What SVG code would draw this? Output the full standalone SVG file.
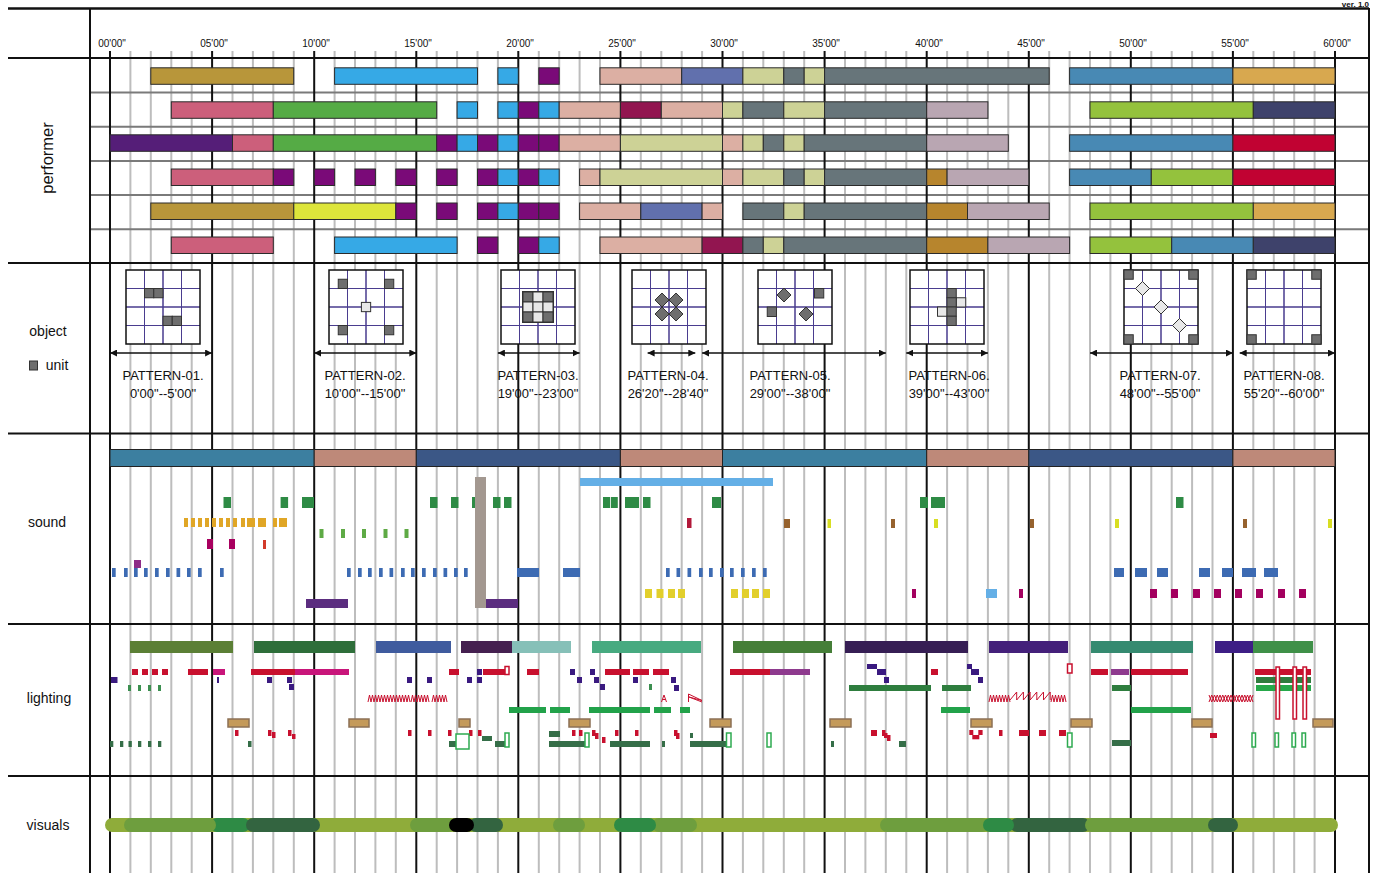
<svg xmlns="http://www.w3.org/2000/svg" xmlns:xlink="http://www.w3.org/1999/xlink" width="1378" height="873" viewBox="0 0 1378 873">
<style>
text{font-family:"Liberation Sans",Arial,sans-serif;fill:#111}
.lbl{font-size:14px;text-anchor:middle}
.tm{font-size:10px;text-anchor:middle}
.pt{font-size:13px;text-anchor:middle}
.gl{stroke:#bdbdbd;stroke-width:2;fill:none}
.bl{stroke:#111;stroke-width:2;fill:none}
.sep{stroke:#7a7a7a;stroke-width:2;fill:none}
.bar rect{stroke:#2b2b2b;stroke-width:1}
.gd{fill:#B8963A}.bu{fill:#36A9E6}.pu{fill:#7A0A78}.pb{fill:#DCAFA3}.sl{fill:#6170AD}.po{fill:#CDD296}.gy{fill:#67757A}.st{fill:#4889B4}.og{fill:#D8A84F}.pk{fill:#CC5F7B}.gn{fill:#55AB45}.mr{fill:#921550}.mv{fill:#B9A6B2}.lm{fill:#94C23D}.nv{fill:#3E426B}.dp{fill:#551E78}.cr{fill:#C10232}.bg{fill:#B7852D}.ye{fill:#DDE53B}
.u{fill:#6e6e6e;stroke:#333;stroke-width:1}
.ul{fill:#e8e8e8;stroke:#333;stroke-width:1}
.arr{stroke:#111;stroke-width:1.5;fill:none;marker-start:url(#ah);marker-end:url(#ah)}
.zz{stroke:#C8102E;stroke-width:1;fill:none}
.ro{fill:#fff;stroke:#C8102E;stroke-width:1.5}
.go{fill:#fff;stroke:#2EAA50;stroke-width:1.5}
.tan{fill:#C49A5A;stroke:#8C7055;stroke-width:1.5}
.vis{stroke-width:14;stroke-linecap:round;fill:none}
</style>
<defs>
<marker id="ah" viewBox="0 0 10 10" refX="10" refY="5" markerUnits="userSpaceOnUse" markerWidth="7" markerHeight="7" orient="auto-start-reverse"><path d="M0,0L10,5L0,10z" fill="#111"/></marker>
<g id="pg"><rect width="74" height="74" fill="#fff"/><path d="M18.5 0V74M55.5 0V74M0 18.5H74M0 55.5H74" stroke="#4a3d8f" stroke-width="1"/><path d="M37 0V74M0 37H74" stroke="#4a3d8f" stroke-width="1.5"/><rect width="74" height="74" fill="none" stroke="#111" stroke-width="1.5"/></g>
</defs>
<rect width="1378" height="873" fill="#fff"/>

<g id="grid">
<path class="gl" d="M130.4 51V873M150.8 51V873M171.3 51V873M191.7 51V873M232.5 51V873M252.9 51V873M273.3 51V873M293.8 51V873M334.6 51V873M355 51V873M375.4 51V873M395.8 51V873M436.7 51V873M457.1 51V873M477.5 51V873M497.9 51V873M538.8 51V873M559.2 51V873M579.6 51V873M600 51V873M640.8 51V873M661.3 51V873M681.7 51V873M702.1 51V873M742.9 51V873M763.3 51V873M783.8 51V873M804.2 51V873M845 51V873M865.4 51V873M885.8 51V873M906.3 51V873M947.1 51V873M967.5 51V873M987.9 51V873M1008.3 51V873M1049.2 51V873M1069.6 51V873M1090 51V873M1110.4 51V873M1151.3 51V873M1171.7 51V873M1192.1 51V873M1212.5 51V873M1253.3 51V873M1273.8 51V873M1294.2 51V873M1314.6 51V873"/>
<path class="sep" d="M90 92.5H1369M90 126.7H1369M90 161H1369M90 195H1369M90 229.3H1369"/>
<path class="bl" d="M110 51V873M212.1 51V873M314.2 51V873M416.3 51V873M518.3 51V873M620.4 51V873M722.5 51V873M824.6 51V873M926.7 51V873M1028.8 51V873M1130.8 51V873M1232.9 51V873M1335 51V873"/>
<path class="bl" d="M8 58H1369M8 263H1369M8 433.5H1369M8 624H1369M8 776H1369"/>
<path class="bl" d="M90 8V873M1369 8V873"/>
<path d="M8 8.5H1369" stroke="#111" stroke-width="2.5"/>
</g>

<g id="header">
<text x="1369" y="6.5" font-size="8" font-weight="bold" text-anchor="end">ver. 1.0</text>
<text class="tm" x="112" y="47">00'00"</text>
<text class="tm" x="214" y="47">05'00"</text>
<text class="tm" x="316" y="47">10'00"</text>
<text class="tm" x="418" y="47">15'00"</text>
<text class="tm" x="520" y="47">20'00"</text>
<text class="tm" x="622" y="47">25'00"</text>
<text class="tm" x="724" y="47">30'00"</text>
<text class="tm" x="826" y="47">35'00"</text>
<text class="tm" x="929" y="47">40'00"</text>
<text class="tm" x="1031" y="47">45'00"</text>
<text class="tm" x="1133" y="47">50'00"</text>
<text class="tm" x="1235" y="47">55'00"</text>
<text class="tm" x="1337" y="47">60'00"</text>
</g>

<g id="labels">
<text x="0" y="0" font-size="16.5" text-anchor="middle" transform="translate(53,158) rotate(-90)">performer</text>
<text class="lbl" x="48" y="336">object</text>
<rect class="u" x="29.5" y="361" width="8" height="9"/>
<text class="lbl" x="57" y="370">unit</text>
<text class="lbl" x="47" y="527">sound</text>
<text class="lbl" x="49" y="703">lighting</text>
<text class="lbl" x="48" y="830">visuals</text>
</g>

<g id="performer" class="bar">
<g id="perf-row1" transform="translate(0,67.8)">
<rect class="gd" x="150.8" width="142.9" height="16.5"/>
<rect class="bu" x="334.6" width="142.9" height="16.5"/>
<rect class="bu" x="497.9" width="20.4" height="16.5"/>
<rect class="pu" x="538.8" width="20.4" height="16.5"/>
<rect class="pb" x="600" width="81.7" height="16.5"/>
<rect class="sl" x="681.7" width="61.2" height="16.5"/>
<rect class="po" x="742.9" width="40.9" height="16.5"/>
<rect class="gy" x="783.8" width="20.4" height="16.5"/>
<rect class="po" x="804.2" width="20.4" height="16.5"/>
<rect class="gy" x="824.6" width="224.6" height="16.5"/>
<rect class="st" x="1069.6" width="163.3" height="16.5"/>
<rect class="og" x="1232.9" width="102.1" height="16.5"/>
</g>
<g id="perf-row2" transform="translate(0,101.8)">
<rect class="pk" x="171.3" width="102" height="16.5"/>
<rect class="gn" x="273.3" width="163.4" height="16.5"/>
<rect class="bu" x="457.1" width="20.4" height="16.5"/>
<rect class="bu" x="497.9" width="20.4" height="16.5"/>
<rect class="pu" x="518.3" width="20.5" height="16.5"/>
<rect class="bu" x="538.8" width="20.4" height="16.5"/>
<rect class="pb" x="559.2" width="61.2" height="16.5"/>
<rect class="mr" x="620.4" width="40.9" height="16.5"/>
<rect class="pb" x="661.3" width="61.2" height="16.5"/>
<rect class="po" x="722.5" width="20.4" height="16.5"/>
<rect class="gy" x="742.9" width="40.9" height="16.5"/>
<rect class="po" x="783.8" width="40.8" height="16.5"/>
<rect class="gy" x="824.6" width="102.1" height="16.5"/>
<rect class="mv" x="926.7" width="61.2" height="16.5"/>
<rect class="lm" x="1090" width="163.3" height="16.5"/>
<rect class="nv" x="1253.3" width="81.7" height="16.5"/>
</g>
<g id="perf-row3" transform="translate(0,134.8)">
<rect class="dp" x="110" width="122.5" height="16.5"/>
<rect class="pk" x="232.5" width="40.8" height="16.5"/>
<rect class="gn" x="273.3" width="163.4" height="16.5"/>
<rect class="pu" x="436.7" width="20.4" height="16.5"/>
<rect class="bu" x="457.1" width="20.4" height="16.5"/>
<rect class="pu" x="477.5" width="20.4" height="16.5"/>
<rect class="bu" x="497.9" width="20.4" height="16.5"/>
<rect class="pu" x="518.3" width="20.5" height="16.5"/>
<rect class="pu" x="538.8" width="20.4" height="16.5"/>
<rect class="pb" x="559.2" width="61.2" height="16.5"/>
<rect class="po" x="620.4" width="102.1" height="16.5"/>
<rect class="pb" x="722.5" width="20.4" height="16.5"/>
<rect class="po" x="742.9" width="20.4" height="16.5"/>
<rect class="gy" x="763.3" width="20.5" height="16.5"/>
<rect class="po" x="783.8" width="20.4" height="16.5"/>
<rect class="gy" x="804.2" width="122.5" height="16.5"/>
<rect class="mv" x="926.7" width="81.6" height="16.5"/>
<rect class="st" x="1069.6" width="163.3" height="16.5"/>
<rect class="cr" x="1232.9" width="102.1" height="16.5"/>
</g>
<g id="perf-row4" transform="translate(0,169)">
<rect class="pk" x="171.3" width="102" height="16.5"/>
<rect class="pu" x="273.3" width="20.5" height="16.5"/>
<rect class="pu" x="314.2" width="20.4" height="16.5"/>
<rect class="pu" x="355" width="20.4" height="16.5"/>
<rect class="pu" x="395.8" width="20.5" height="16.5"/>
<rect class="pu" x="436.7" width="20.4" height="16.5"/>
<rect class="pu" x="477.5" width="20.4" height="16.5"/>
<rect class="bu" x="497.9" width="20.4" height="16.5"/>
<rect class="pu" x="518.3" width="20.5" height="16.5"/>
<rect class="bu" x="538.8" width="20.4" height="16.5"/>
<rect class="pb" x="579.6" width="20.4" height="16.5"/>
<rect class="po" x="600" width="122.5" height="16.5"/>
<rect class="pb" x="722.5" width="20.4" height="16.5"/>
<rect class="po" x="742.9" width="40.9" height="16.5"/>
<rect class="gy" x="783.8" width="20.4" height="16.5"/>
<rect class="po" x="804.2" width="20.4" height="16.5"/>
<rect class="gy" x="824.6" width="102.1" height="16.5"/>
<rect class="bg" x="926.7" width="20.4" height="16.5"/>
<rect class="mv" x="947.1" width="81.7" height="16.5"/>
<rect class="st" x="1069.6" width="81.7" height="16.5"/>
<rect class="lm" x="1151.3" width="81.6" height="16.5"/>
<rect class="cr" x="1232.9" width="102.1" height="16.5"/>
</g>
<g id="perf-row5" transform="translate(0,203)">
<rect class="gd" x="150.8" width="143" height="16.5"/>
<rect class="ye" x="293.8" width="102" height="16.5"/>
<rect class="pu" x="395.8" width="20.5" height="16.5"/>
<rect class="pu" x="436.7" width="20.4" height="16.5"/>
<rect class="pu" x="477.5" width="20.4" height="16.5"/>
<rect class="bu" x="497.9" width="20.4" height="16.5"/>
<rect class="pu" x="518.3" width="20.5" height="16.5"/>
<rect class="pu" x="538.8" width="20.4" height="16.5"/>
<rect class="pb" x="579.6" width="61.2" height="16.5"/>
<rect class="sl" x="640.8" width="61.3" height="16.5"/>
<rect class="pb" x="702.1" width="20.4" height="16.5"/>
<rect class="gy" x="742.9" width="40.9" height="16.5"/>
<rect class="po" x="783.8" width="20.4" height="16.5"/>
<rect class="gy" x="804.2" width="122.5" height="16.5"/>
<rect class="bg" x="926.7" width="40.8" height="16.5"/>
<rect class="mv" x="967.5" width="81.7" height="16.5"/>
<rect class="lm" x="1090" width="163.3" height="16.5"/>
<rect class="og" x="1253.3" width="81.7" height="16.5"/>
</g>
<g id="perf-row6" transform="translate(0,237)">
<rect class="pk" x="171.3" width="102" height="16.5"/>
<rect class="bu" x="334.6" width="122.5" height="16.5"/>
<rect class="pu" x="477.5" width="20.4" height="16.5"/>
<rect class="pu" x="518.3" width="20.5" height="16.5"/>
<rect class="bu" x="538.8" width="20.4" height="16.5"/>
<rect class="pb" x="600" width="102.1" height="16.5"/>
<rect class="mr" x="702.1" width="40.8" height="16.5"/>
<rect class="gy" x="742.9" width="20.4" height="16.5"/>
<rect class="po" x="763.3" width="20.5" height="16.5"/>
<rect class="gy" x="783.8" width="142.9" height="16.5"/>
<rect class="bg" x="926.7" width="61.2" height="16.5"/>
<rect class="mv" x="987.9" width="81.7" height="16.5"/>
<rect class="lm" x="1090" width="81.7" height="16.5"/>
<rect class="st" x="1171.7" width="81.6" height="16.5"/>
<rect class="nv" x="1253.3" width="81.7" height="16.5"/>
</g>
</g>

<g id="objects">
<g id="pattern-01">
<g transform="translate(126,270)"><use xlink:href="#pg"/>
<rect class="u" x="18.5" y="18.5" width="9.25" height="9.25"/><rect class="u" x="27.75" y="18.5" width="9.25" height="9.25"/>
<rect class="u" x="37" y="46.25" width="9.25" height="9.25"/><rect class="u" x="46.25" y="46.25" width="9.25" height="9.25"/></g>
<text class="pt" x="163" y="380">PATTERN-01.</text><text class="pt" x="163" y="398">0'00"--5'00"</text>
</g>
<g id="pattern-02">
<g transform="translate(329,270)"><use xlink:href="#pg"/>
<rect class="u" x="9.25" y="9.25" width="9.25" height="9.25"/><rect class="u" x="55.5" y="9.25" width="9.25" height="9.25"/>
<rect class="u" x="9.25" y="55.5" width="9.25" height="9.25"/><rect class="u" x="55.5" y="55.5" width="9.25" height="9.25"/>
<rect class="ul" x="32.4" y="32.4" width="9.25" height="9.25"/></g>
<text class="pt" x="365" y="380">PATTERN-02.</text><text class="pt" x="365" y="398">10'00"--15'00"</text>
</g>
<g id="pattern-03">
<g transform="translate(501,270)"><use xlink:href="#pg"/>
<rect x="21.5" y="21.5" width="31" height="31" fill="#6e6e6e" stroke="#333"/>
<rect class="u" x="22" y="22" width="10" height="10"/><rect class="ul" x="32" y="22" width="10" height="10"/><rect class="u" x="42" y="22" width="10" height="10"/>
<rect class="ul" x="22" y="32" width="10" height="10"/><rect class="ul" x="32" y="32" width="10" height="10"/><rect class="ul" x="42" y="32" width="10" height="10"/>
<rect class="u" x="22" y="42" width="10" height="10"/><rect class="ul" x="32" y="42" width="10" height="10"/><rect class="u" x="42" y="42" width="10" height="10"/></g>
<text class="pt" x="538" y="380">PATTERN-03.</text><text class="pt" x="538" y="398">19'00"--23'00"</text>
</g>
<g id="pattern-04">
<g transform="translate(632,270)"><use xlink:href="#pg"/>
<path class="u" d="M30 23l7 7-7 7-7-7z"/><path class="u" d="M44 23l7 7-7 7-7-7z"/>
<path class="u" d="M30 37l7 7-7 7-7-7z"/><path class="u" d="M44 37l7 7-7 7-7-7z"/></g>
<text class="pt" x="668" y="380">PATTERN-04.</text><text class="pt" x="668" y="398">26'20"--28'40"</text>
</g>
<g id="pattern-05">
<g transform="translate(758,270)"><use xlink:href="#pg"/>
<path class="u" d="M26 18l7 7-7 7-7-7z"/><rect class="u" x="56.5" y="18.5" width="9.25" height="9.5"/>
<rect class="u" x="9.25" y="37" width="9.25" height="9.5"/><path class="u" d="M48 37l7 7-7 7-7-7z"/></g>
<text class="pt" x="790" y="380">PATTERN-05.</text><text class="pt" x="790" y="398">29'00"--38'00"</text>
</g>
<g id="pattern-06">
<g transform="translate(910,270)"><use xlink:href="#pg"/>
<rect class="ul" x="46.25" y="27.75" width="9.5" height="9.25"/><rect class="ul" x="27.5" y="37" width="9.5" height="9.25"/>
<rect class="u" x="37" y="18.5" width="9.25" height="9.25"/><rect class="u" x="37" y="27.75" width="9.25" height="9.25"/>
<rect class="u" x="37" y="37" width="9.25" height="9.25"/><rect class="u" x="37" y="46.25" width="9.25" height="9.25"/></g>
<text class="pt" x="949" y="380">PATTERN-06.</text><text class="pt" x="949" y="398">39'00"--43'00"</text>
</g>
<g id="pattern-07">
<g transform="translate(1124,270)"><use xlink:href="#pg"/>
<rect class="u" x="0" y="0" width="9.25" height="9.25"/><rect class="u" x="64.75" y="0" width="9.25" height="9.25"/>
<rect class="u" x="0" y="64.75" width="9.25" height="9.25"/><rect class="u" x="64.75" y="64.75" width="9.25" height="9.25"/>
<path class="ul" d="M18.5 11.5l7 7-7 7-7-7z"/><path class="ul" d="M37 30l7 7-7 7-7-7z"/><path class="ul" d="M55.5 48.5l7 7-7 7-7-7z"/></g>
<text class="pt" x="1160" y="380">PATTERN-07.</text><text class="pt" x="1160" y="398">48'00"--55'00"</text>
</g>
<g id="pattern-08">
<g transform="translate(1247,270)"><use xlink:href="#pg"/>
<rect class="u" x="0" y="0" width="9.25" height="9.25"/><rect class="u" x="64.75" y="0" width="9.25" height="9.25"/>
<rect class="u" x="0" y="64.75" width="9.25" height="9.25"/><rect class="u" x="64.75" y="64.75" width="9.25" height="9.25"/></g>
<text class="pt" x="1284" y="380">PATTERN-08.</text><text class="pt" x="1284" y="398">55'20"--60'00"</text>
</g>
</g>

<g id="connectors">
<path class="arr" d="M110 353H212.1"/>
<path class="arr" d="M314.2 353H416.3"/>
<path class="arr" d="M497.9 353H579.6"/>
<path class="arr" d="M647.6 353H695.3"/>
<path class="arr" d="M702.1 353H885.8"/>
<path class="arr" d="M906.3 353H987.9"/>
<path class="arr" d="M1090 353H1232.9"/>
<path class="arr" d="M1239.7 353H1335"/>
</g>

<g id="sound">
<g id="sound-bar" stroke="#222" stroke-width="1">
<rect x="110" y="449.5" width="204.2" height="17" fill="#3C7FA0"/>
<rect x="314.2" y="449.5" width="102.1" height="17" fill="#BE8979"/>
<rect x="416.3" y="449.5" width="204.1" height="17" fill="#3B5786"/>
<rect x="620.4" y="449.5" width="102.1" height="17" fill="#BE8979"/>
<rect x="722.5" y="449.5" width="204.2" height="17" fill="#3C7FA0"/>
<rect x="926.7" y="449.5" width="102.1" height="17" fill="#BE8979"/>
<rect x="1028.8" y="449.5" width="204.1" height="17" fill="#3B5786"/>
<rect x="1232.9" y="449.5" width="102.1" height="17" fill="#BE8979"/>
</g>
<rect x="580" y="478" width="193" height="8" fill="#64AFE6"/>
<g fill="#2E8B45">
<rect x="223.5" y="497" width="7.5" height="11"/><rect x="280.6" y="497" width="7.5" height="11"/><rect x="302" y="497" width="12" height="11"/>
<rect x="430" y="497" width="7.5" height="11"/><rect x="451" y="497" width="7.5" height="11"/><rect x="472" y="497" width="4" height="11"/>
<rect x="493" y="497" width="7.5" height="11"/><rect x="504" y="497" width="7.5" height="11"/>
<rect x="603" y="497" width="7" height="11"/><rect x="610.8" y="497" width="7" height="11"/><rect x="625" y="497" width="14" height="11"/><rect x="643" y="497" width="7.5" height="11"/>
<rect x="712" y="497" width="9" height="11"/><rect x="920" y="497" width="8" height="11"/><rect x="931" y="497" width="14" height="11"/><rect x="1176" y="497" width="7.5" height="11"/>
</g>
<g fill="#E0A626">
<rect x="184" y="518" width="4" height="9"/><rect x="191" y="518" width="4" height="9"/><rect x="198" y="518" width="4" height="9"/><rect x="205" y="518" width="4" height="9"/><rect x="212" y="518" width="4" height="9"/><rect x="219" y="518" width="4" height="9"/><rect x="226" y="518" width="4" height="9"/><rect x="233" y="518" width="4" height="9"/><rect x="241" y="518" width="4" height="9"/>
<rect x="247" y="518" width="8" height="9"/><rect x="258" y="518" width="8" height="9"/><rect x="273" y="518" width="4" height="9"/><rect x="279" y="518" width="8" height="9"/>
</g>
<g fill="#5EAA45">
<rect x="319.5" y="529" width="4" height="9"/><rect x="341" y="529" width="4" height="9"/><rect x="362" y="529" width="4" height="9"/><rect x="383.5" y="529" width="4" height="9"/><rect x="404.5" y="529" width="4" height="9"/>
</g>
<rect x="687" y="518" width="4.5" height="10" fill="#B2193A"/>
<rect x="207" y="539" width="6" height="10" fill="#A8005F"/><rect x="229" y="539" width="6" height="10" fill="#A8005F"/>
<rect x="263" y="540" width="3" height="9" fill="#D23A2A"/>
<rect x="134" y="560" width="7" height="8" fill="#8E2C88"/>
<g fill="#3D6BB3">
<rect x="112" y="568" width="3.7" height="9"/><rect x="124" y="568" width="3.7" height="9"/><rect x="134" y="568" width="3.7" height="9"/><rect x="144" y="568" width="3.7" height="9"/><rect x="155" y="568" width="3.7" height="9"/><rect x="166" y="568" width="3.7" height="9"/><rect x="176.5" y="568" width="3.7" height="9"/><rect x="187" y="568" width="3.7" height="9"/><rect x="198" y="568" width="3.7" height="9"/><rect x="220" y="568" width="3.7" height="9"/>
<rect x="347" y="568" width="3.7" height="9"/><rect x="358" y="568" width="3.7" height="9"/><rect x="368" y="568" width="3.7" height="9"/><rect x="379" y="568" width="3.7" height="9"/><rect x="389.5" y="568" width="3.7" height="9"/><rect x="401" y="568" width="3.7" height="9"/><rect x="411" y="568" width="3.7" height="9"/><rect x="422" y="568" width="3.7" height="9"/><rect x="433" y="568" width="3.7" height="9"/><rect x="443.5" y="568" width="3.7" height="9"/><rect x="454" y="568" width="3.7" height="9"/><rect x="464" y="568" width="3.7" height="9"/>
<rect x="517" y="568" width="22" height="9"/><rect x="563" y="568" width="17" height="9"/>
<rect x="666" y="568" width="3.7" height="9"/><rect x="676.5" y="568" width="3.7" height="9"/><rect x="687.5" y="568" width="3.7" height="9"/><rect x="699" y="568" width="3.7" height="9"/><rect x="709" y="568" width="3.7" height="9"/><rect x="720" y="568" width="3.7" height="9"/><rect x="730" y="568" width="3.7" height="9"/><rect x="741" y="568" width="3.7" height="9"/><rect x="752" y="568" width="3.7" height="9"/><rect x="763" y="568" width="3.7" height="9"/>
<rect x="1114" y="568" width="10" height="9"/><rect x="1135" y="568" width="12" height="9"/><rect x="1157" y="568" width="11" height="9"/><rect x="1199" y="568" width="11" height="9"/><rect x="1222" y="568" width="11" height="9"/><rect x="1242" y="568" width="14" height="9"/><rect x="1264" y="568" width="14" height="9"/>
</g>
<g fill="#E2CF2C">
<rect x="645" y="589" width="7" height="9"/><rect x="656.5" y="589" width="7" height="9"/><rect x="668" y="589" width="7" height="9"/><rect x="678" y="589" width="7" height="9"/>
<rect x="731" y="589" width="7" height="9"/><rect x="742" y="589" width="7" height="9"/><rect x="752" y="589" width="7" height="9"/><rect x="763" y="589" width="7" height="9"/>
</g>
<g fill="#96622E"><rect x="784" y="519" width="6" height="9"/><rect x="891" y="519" width="4" height="9"/><rect x="1030" y="519" width="4" height="9"/><rect x="1243" y="519" width="4" height="9"/></g>
<g fill="#D8DE22"><rect x="827.5" y="519" width="3.5" height="9"/><rect x="934" y="519" width="4" height="9"/><rect x="1115" y="519" width="4" height="9"/><rect x="1328" y="519" width="4" height="9"/></g>
<g fill="#A3005F">
<rect x="912" y="589" width="4" height="9"/><rect x="1019" y="589" width="4" height="9"/><rect x="1150" y="589" width="7" height="9"/><rect x="1171" y="589" width="7" height="9"/><rect x="1193" y="589" width="7" height="9"/><rect x="1214" y="589" width="7" height="9"/><rect x="1235" y="589" width="7" height="9"/><rect x="1256" y="589" width="7" height="9"/><rect x="1278" y="589" width="7" height="9"/><rect x="1299" y="589" width="7" height="9"/>
</g>
<rect x="986" y="589" width="11" height="9" fill="#64AFE6"/>
<rect x="306" y="599" width="42" height="9" fill="#5B2D7F"/>
<rect x="486" y="599" width="32" height="9" fill="#5B2D7F"/>
<rect x="475" y="477" width="11" height="131" fill="#A39890"/>
</g>

<g id="lighting">
<g id="light-bars">
<rect x="130" y="641" width="103" height="12" fill="#5B7F35"/>
<rect x="254" y="641" width="101" height="12" fill="#2E6E3A"/>
<rect x="376" y="641" width="75" height="12" fill="#3F5B9E"/>
<rect x="461" y="641" width="51" height="12" fill="#452050"/>
<rect x="512" y="641" width="59" height="12" fill="#86C0B8"/>
<rect x="592" y="641" width="109" height="12" fill="#47AA80"/>
<rect x="733" y="641" width="99" height="12" fill="#457E38"/>
<rect x="845" y="641" width="123" height="12" fill="#361E54"/>
<rect x="989" y="641" width="79" height="12" fill="#44207A"/>
<rect x="1091" y="641" width="102" height="12" fill="#358A70"/>
<rect x="1215" y="641" width="38" height="12" fill="#3D1E85"/>
<rect x="1253" y="641" width="60" height="12" fill="#3F9048"/>
</g>
<g fill="#C8102E">
<rect x="132" y="669" width="6" height="6"/><rect x="142" y="669" width="6" height="6"/><rect x="152" y="669" width="6" height="6"/><rect x="162" y="669" width="6" height="6"/>
<rect x="188" y="669" width="20" height="6"/><rect x="251" y="669" width="44" height="6"/><rect x="449" y="669" width="10" height="6"/><rect x="483" y="669" width="22" height="6"/>
<rect x="527" y="669" width="12" height="6"/><rect x="605" y="669" width="25" height="6"/><rect x="633" y="669" width="16" height="6"/><rect x="653" y="669" width="16" height="6"/>
<rect x="730" y="669" width="40" height="6"/><rect x="931" y="669" width="7" height="6"/><rect x="1091" y="669" width="17" height="6"/><rect x="1131" y="669" width="57" height="6"/><rect x="1255" y="669" width="56" height="6"/>
</g>
<rect x="213" y="669" width="12" height="6" fill="#C8157A"/><rect x="295" y="669" width="54" height="6" fill="#C8157A"/>
<rect x="770" y="669" width="40" height="6" fill="#8E3A8E"/><rect x="1111" y="669" width="18" height="6" fill="#8E3A8E"/>
<g fill="#3A1A80">
<rect x="111" y="677" width="6.5" height="6"/><rect x="217" y="677" width="2" height="6"/><rect x="267" y="677" width="5" height="6"/><rect x="287" y="677" width="5" height="6"/><rect x="289" y="684" width="5" height="6"/>
<rect x="407" y="677" width="5" height="6"/><rect x="427" y="677" width="5" height="6"/><rect x="467" y="677" width="5" height="6"/><rect x="477" y="677" width="5" height="6"/><rect x="477" y="669" width="5" height="6"/>
<rect x="570" y="669" width="5" height="6"/><rect x="577" y="677" width="5" height="6"/><rect x="590" y="669" width="5" height="6"/><rect x="594" y="677" width="5" height="6"/><rect x="600" y="684" width="5" height="6"/><rect x="633" y="677" width="5" height="6"/><rect x="671" y="677" width="5" height="6"/><rect x="674" y="685" width="5" height="6"/>
<rect x="867" y="664" width="10" height="5"/><rect x="877" y="669" width="9" height="6"/><rect x="884" y="677" width="5" height="6"/>
<rect x="967" y="664" width="5" height="5"/><rect x="971" y="669" width="8" height="6"/><rect x="978" y="677" width="5" height="6"/>
</g>
<g fill="#3C8F50"><rect x="128" y="685" width="3" height="6"/><rect x="138" y="685" width="3" height="6"/><rect x="148" y="685" width="3" height="6"/><rect x="158" y="685" width="3" height="6"/><rect x="649" y="684" width="3" height="6"/></g>
<g fill="#2E7D3E"><rect x="849" y="685" width="82" height="6"/><rect x="942" y="685" width="29" height="6"/><rect x="1112" y="685" width="19" height="6"/><rect x="1256" y="677" width="55" height="6"/></g>
<rect x="1256" y="685" width="55" height="6" fill="#26A84A"/>
<g class="zz">
<path d="M368 702l1.5-7 1.5 7 1.5-7 1.5 7 1.5-7 1.5 7 1.5-7 1.5 7 1.5-7 1.5 7 1.5-7 1.5 7 1.5-7 1.5 7 1.5-7 1.5 7 1.5-7 1.5 7 1.5-7 1.5 7 1.5-7 1.5 7 1.5-7 1.5 7 1.5-7 1.5 7 1.5-7 1.5 7"/>
<path d="M411 702l1.5-7 1.5 7 1.5-7 1.5 7 1.5-7 1.5 7 1.5-7 1.5 7 1.5-7 1.5 7 1.5-7 1.5 7"/>
<path d="M432 702l1.5-7 1.5 7 1.5-7 1.5 7 1.5-7 1.5 7 1.5-7 1.5 7 1.5-7 1.5 7"/>
<path d="M661.5 702L664 695L666.5 702M662.5 699.5h3"/>
<path d="M688.5 702V694L702 700.5L689 697L702 702"/>
<path d="M989 702l1.5-7 1.5 7 1.5-7 1.5 7 1.5-7 1.5 7 1.5-7 1.5 7 1.5-7 1.5 7 1.5-7 1.5 7 1.5-7 1.5 7"/>
<path d="M1010 700l6.7-8v8l6.7-8v8l6.7-8v8l6.7-8v8l6.7-8v8l6.7-8v8"/>
<path d="M1051 702l1.5-7 1.5 7 1.5-7 1.5 7 1.5-7 1.5 7 1.5-7 1.5 7 1.5-7 1.5 7"/>
<path d="M1209 695l2.75 7 2.75-7 2.75 7 2.75-7 2.75 7 2.75-7 2.75 7 2.75-7 2.75 7 2.75-7 2.75 7 2.75-7 2.75 7 2.75-7 2.75 7 2.75-7"/>
<path d="M1209 702l2.75-7 2.75 7 2.75-7 2.75 7 2.75-7 2.75 7 2.75-7 2.75 7 2.75-7 2.75 7 2.75-7 2.75 7 2.75-7 2.75 7 2.75-7 2.75 7"/>
</g>
<g fill="#22A24A">
<rect x="509" y="707" width="37" height="6"/><rect x="550" y="707" width="20" height="6"/><rect x="589" y="707" width="61" height="6"/><rect x="654" y="707" width="17" height="6"/><rect x="680" y="707" width="10" height="6"/><rect x="941" y="707" width="29" height="6"/><rect x="1131" y="707" width="60" height="6"/>
</g>
<g class="tan">
<rect x="228" y="719" width="21" height="8"/><rect x="349" y="719" width="20" height="8"/><rect x="459" y="719" width="11" height="8"/><rect x="569" y="719" width="21" height="8"/><rect x="710" y="719" width="21" height="8"/><rect x="830" y="719" width="21" height="8"/><rect x="971" y="719" width="21" height="8"/><rect x="1071" y="719" width="21" height="8"/><rect x="1192" y="719" width="20" height="8"/><rect x="1313" y="719" width="20" height="8"/>
</g>
<g fill="#C8102E">
<rect x="235" y="730" width="3.5" height="6"/><rect x="268" y="730" width="3.5" height="6"/><rect x="272" y="732" width="3.5" height="6"/><rect x="288" y="730" width="3.5" height="6"/><rect x="292" y="734" width="3.5" height="5"/>
<rect x="408" y="730" width="3.5" height="6"/><rect x="428" y="730" width="3.5" height="6"/><rect x="448" y="730" width="3.5" height="6"/><rect x="469" y="730" width="3.5" height="6"/><rect x="478" y="730" width="3.5" height="6"/>
<rect x="572" y="730" width="3.5" height="6"/><rect x="579" y="730" width="3.5" height="6"/><rect x="592" y="730" width="3.5" height="6"/><rect x="595" y="733" width="3.5" height="6"/><rect x="602" y="737" width="3.5" height="6"/>
<rect x="615" y="730" width="3.5" height="6"/><rect x="635" y="730" width="3.5" height="6"/><rect x="674" y="730" width="3.5" height="6"/><rect x="676" y="733" width="3.5" height="6"/>
<rect x="871" y="730" width="6" height="6"/><rect x="882" y="730" width="3.5" height="6"/><rect x="884" y="733" width="3.5" height="5"/><rect x="887" y="735" width="3.5" height="6"/>
<rect x="969.3" y="730" width="4" height="5"/><rect x="978.3" y="730" width="4.3" height="5"/><rect x="972.3" y="735" width="7" height="4.3"/>
<rect x="999" y="730" width="3.5" height="6"/><rect x="1019" y="730" width="10" height="6"/><rect x="1039" y="730" width="7" height="6"/><rect x="1059" y="730" width="7" height="6"/><rect x="1210" y="733" width="7" height="5"/>
</g>
<g fill="#356E48">
<rect x="110" y="741" width="3.3" height="6"/><rect x="120" y="741" width="3.3" height="6"/><rect x="128.5" y="741" width="3.3" height="6"/><rect x="138" y="741" width="3.3" height="6"/><rect x="148" y="741" width="3.3" height="6"/><rect x="158" y="741" width="3.3" height="6"/>
<rect x="248" y="741" width="3.5" height="6"/><rect x="449" y="741" width="7" height="6"/><rect x="482" y="736" width="10" height="5"/><rect x="495" y="741" width="12" height="6"/>
<rect x="549" y="731" width="11" height="6"/><rect x="549" y="741" width="37" height="6"/><rect x="610" y="741" width="40" height="6"/><rect x="662" y="741" width="3" height="6"/>
<rect x="690" y="733" width="3" height="5"/><rect x="690" y="741" width="37" height="6"/><rect x="831" y="741" width="3" height="6"/><rect x="899" y="741" width="7" height="6"/><rect x="1112" y="740" width="19" height="6"/>
</g>
<rect class="ro" x="505" y="666.5" width="4" height="8"/>
<rect class="ro" x="1067.5" y="664" width="4.5" height="9"/>
<rect class="ro" x="1276" y="667" width="3.5" height="52"/>
<rect class="ro" x="1293" y="667" width="3.5" height="52"/>
<rect class="ro" x="1303" y="667" width="3.5" height="52"/>
<g class="go">
<rect x="456" y="734" width="13" height="15"/><rect x="505" y="733" width="4" height="14"/><rect x="585" y="733" width="4" height="14"/><rect x="726.5" y="733" width="4.5" height="14"/><rect x="767" y="733" width="4" height="14"/>
<rect x="1067.5" y="733" width="4.5" height="14"/><rect x="1252" y="733" width="3.5" height="14"/><rect x="1275" y="733" width="3.5" height="14"/><rect x="1292" y="733" width="3.5" height="14"/><rect x="1302" y="733" width="3.5" height="14"/>
</g>
</g>

<g id="visuals">
<path class="vis" stroke="#8FAC3A" d="M112 825H1331"/>
<path class="vis" stroke="#2E8B45" d="M217 825H243"/>
<path class="vis" stroke="#6E9E3E" d="M131 825H209"/>
<path class="vis" stroke="#336440" d="M253 825H313"/>
<path class="vis" stroke="#6E9E3E" d="M417 825H448"/>
<path class="vis" stroke="#336440" d="M476 825H496"/>
<path class="vis" stroke="#000" d="M456 825H467"/>
<path class="vis" stroke="#6E9E3E" d="M560 825H578"/>
<path class="vis" stroke="#6E9E3E" d="M659 825H690"/>
<path class="vis" stroke="#2E8B45" d="M621 825H649"/>
<path class="vis" stroke="#6E9E3E" d="M887 825H982"/>
<path class="vis" stroke="#336440" d="M1017 825H1083"/>
<path class="vis" stroke="#2E8B45" d="M990 825H1007"/>
<path class="vis" stroke="#6E9E3E" d="M1092 825H1207"/>
<path class="vis" stroke="#336440" d="M1215 825H1231"/>
</g>
</svg>
